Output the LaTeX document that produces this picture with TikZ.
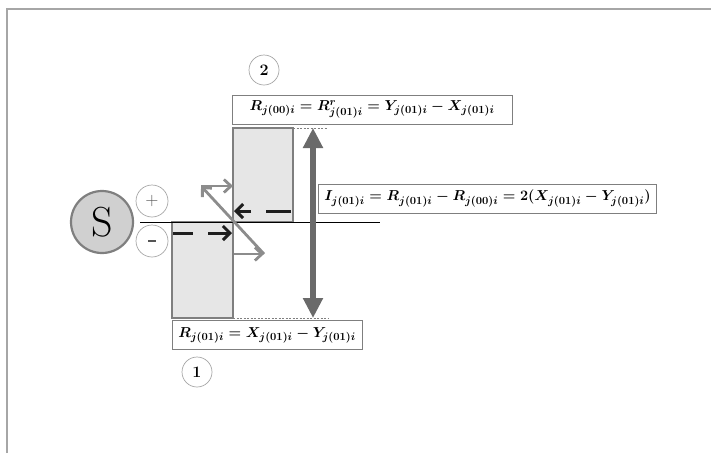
\documentclass[tikz,border=0pt]{standalone}
\usetikzlibrary{arrows.meta}
\definecolor{framec}{HTML}{A6A6A6}
\definecolor{edgec}{HTML}{7F7F7F}
\definecolor{barfill}{HTML}{E6E6E6}
\definecolor{sfill}{HTML}{D0D0D0}
\definecolor{darkarrow}{HTML}{6A6A6A}
\definecolor{zarrow}{HTML}{8C8C8C}
\definecolor{blk}{HTML}{1E1E1E}
\definecolor{signc}{HTML}{555555}
\begin{document}
\begin{tikzpicture}[x=1pt,y=-1pt,
  barbox/.style={draw=edgec, line width=1.3pt, fill=barfill, inner sep=0pt, outer sep=0pt},
  labelbox/.style={draw=edgec, line width=0.9pt, fill=white, inner xsep=6pt, inner ysep=0pt, minimum height=29pt, font=\fontsize{15}{17}\selectfont\boldmath},
  smallcirc/.style={circle, draw=framec, line width=0.7pt, minimum size=32pt, inner sep=0pt, text=signc, font=\fontsize{18}{20}\selectfont\sffamily},
  numcirc/.style={circle, draw=framec, line width=0.7pt, minimum size=30pt, inner sep=0pt, font=\fontsize{16}{18}\selectfont\bfseries},
  guide/.style={draw=edgec, line width=0.6pt, dash pattern=on 2pt off 1.5pt},
  zline/.style={draw=zarrow, line width=2.8pt, -{Straight Barb[length=7pt,width=13pt,line width=2.8pt]}},
  bdash/.style={draw=blk, line width=3pt, dash pattern=on 20pt off 15pt, -{Straight Barb[length=7pt,width=14pt,line width=3pt]}}
]
\useasboundingbox (0,0) rectangle (711,453);
% frame
\coordinate (fb) at (7,453);
\coordinate (fc) at (7,9);
\coordinate (fr) at (711,9);
\draw[framec, line width=1.2pt] (fb) -- (fc) -- (fr);

% source
\node[circle, draw=edgec, line width=2.2pt, fill=sfill, minimum size=62pt, inner sep=0pt,
      font=\fontsize{42}{46}\selectfont] (S) at (102,222) {S};
\node[smallcirc] (plus) at (152,201) {+};
\node[smallcirc] (minus) at (152,241) {\raisebox{-1pt}{\rule{8pt}{2.6pt}}};

% bars
\node[barbox, anchor=north west, minimum width=61pt, minimum height=96pt] (low) at (172,222) {};
\node[barbox, anchor=south west, minimum width=60pt, minimum height=94pt] (up) at (233,222) {};

% axis line
\coordinate (hl) at (140,222);
\coordinate (hr) at (380,222);
\draw[black, line width=1pt] (hl) -- (hr);

% guides
\coordinate (gt) at (328,128);
\coordinate (gb) at (328,318);
\draw[guide] (up.north east) -- (gt);
\draw[guide] (low.south east) -- (gb);

% big double arrow
\coordinate (at) at (313,128);
\coordinate (ab) at (313,318);
\draw[darkarrow, line width=6pt, {Triangle[length=20pt,width=19pt]}-{Triangle[length=20pt,width=19pt]}] (at) -- (ab);

% Z arrows
\coordinate (p1) at (234,254);
\coordinate (p2) at (264,254);
\coordinate (p3) at (201,186);
\coordinate (p4) at (233,186);
\draw[zline] (p1) -- (p2);
\draw[zline] (p2) -- (p3);
\draw[zline] (p3) -- (p4);

% black dashed arrows
\coordinate (d1a) at (173,233);
\coordinate (d1b) at (232,233);
\coordinate (d2a) at (291,211);
\coordinate (d2b) at (234,211);
\draw[bdash] (d1a) -- (d1b);
\draw[bdash, dash pattern=on 25pt off 15pt] (d2a) -- (d2b);

% labels
\node[labelbox, minimum width=280pt] (ltop) at (372,109.5) {$R_{j(00)i}=R^{r}_{j(01)i}=Y_{j(01)i}-X_{j(01)i}$};
\node[labelbox, minimum width=335pt] (lright) at (487.5,198.5) {$I_{j(01)i}=R_{j(01)i}-R_{j(00)i}=2(X_{j(01)i}-Y_{j(01)i})$};
\node[labelbox, minimum width=190pt] (lbot) at (267,335) {$R_{j(01)i}=X_{j(01)i}-Y_{j(01)i}$};

% numbers
\node[numcirc] (n2) at (264,70) {2};
\node[numcirc] (n1) at (197,372) {1};
\end{tikzpicture}
\end{document}
